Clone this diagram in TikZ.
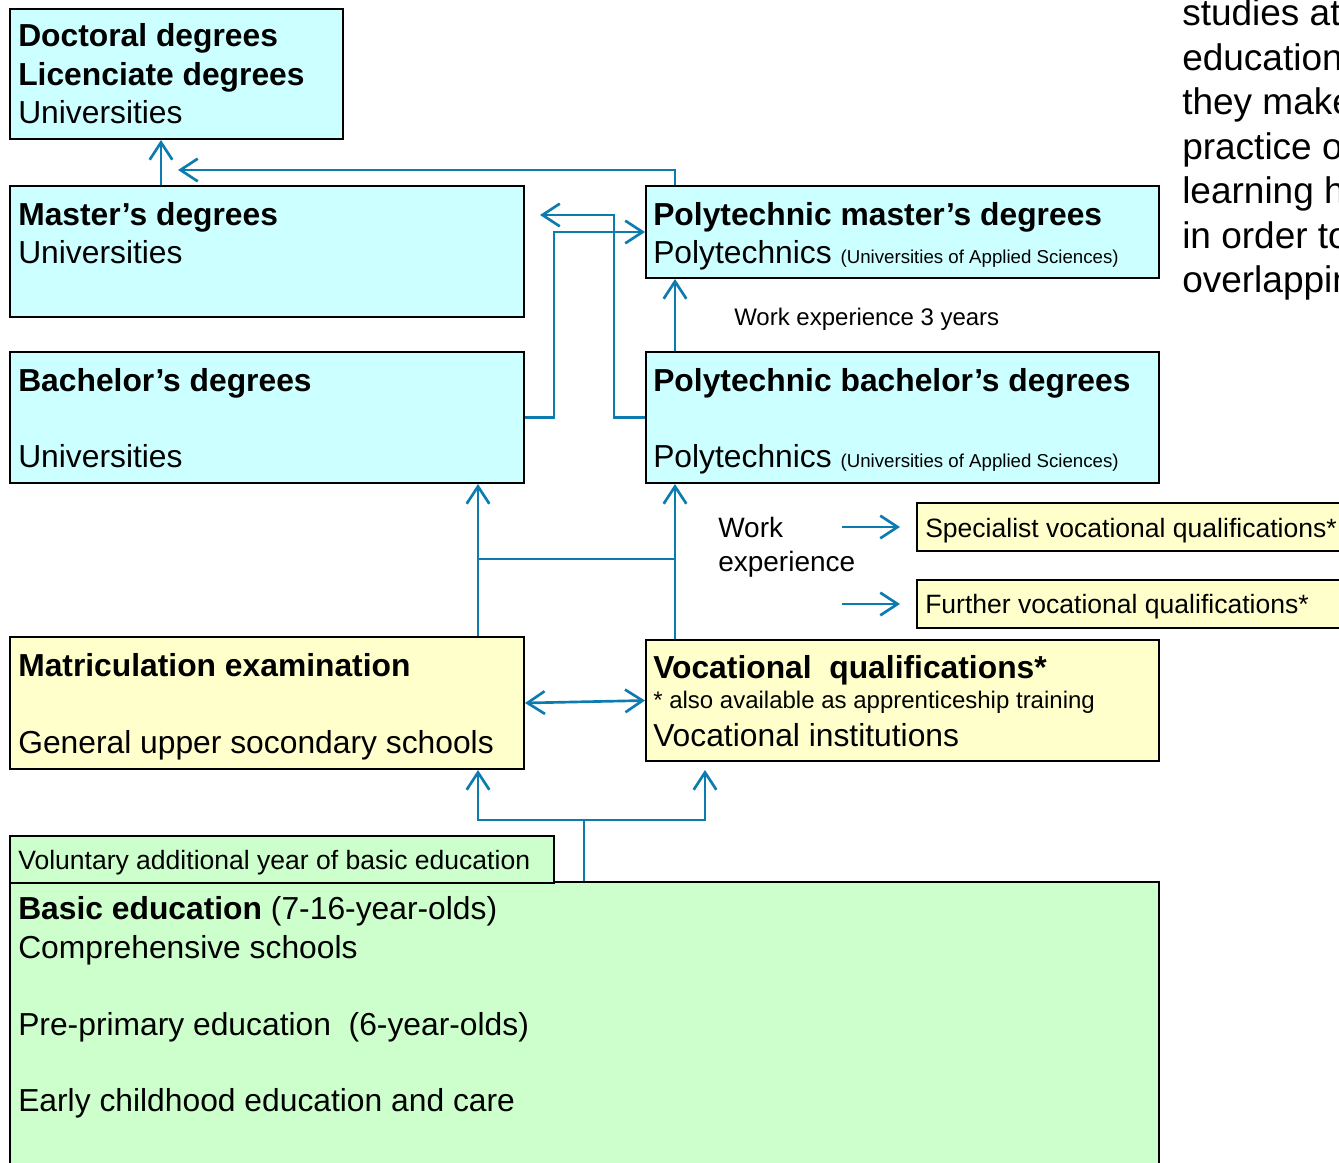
\documentclass[tikz,border=0pt]{standalone}
\usepackage{fontspec}
\setmainfont{Liberation Sans}
\usetikzlibrary{arrows.meta,calc}
\definecolor{cyanfill}{HTML}{CCFFFF}
\definecolor{yelfill}{HTML}{FFFFCC}
\definecolor{grnfill}{HTML}{CCFFCC}
\definecolor{conncol}{HTML}{0C7CB0}
\begin{document}
\begin{tikzpicture}[x=0.75pt,y=-0.75pt,
  box/.style={draw=black, line width=1.5pt, inner sep=0pt, anchor=north west},
  cbox/.style={box, fill=cyanfill},
  ybox/.style={box, fill=yelfill},
  gbox/.style={box, fill=grnfill},
  txt/.style={anchor=base west, inner sep=0pt, font=\fontsize{23.85}{28}\selectfont},
  btxt/.style={anchor=base west, inner sep=0pt, font=\fontsize{23.85}{28}\selectfont\bfseries},
  mtxt/.style={anchor=base west, inner sep=0pt, font=\fontsize{19.9}{23}\selectfont},
  stxt/.style={anchor=base west, inner sep=0pt, font=\fontsize{18}{21}\selectfont},
  rtxt/.style={anchor=base west, inner sep=0pt, font=\fontsize{27.75}{33}\selectfont},
  conn/.style={draw=conncol, line width=2pt},
  arr/.style={conn, -{Straight Barb[length=13pt,width=17pt]}},
  dblarr/.style={conn, {Straight Barb[length=13pt,width=17pt]}-{Straight Barb[length=13pt,width=17pt]}},
]
\useasboundingbox (0,0) rectangle (1339,1163);
\clip (0,0) rectangle (1339,1163);
\newcommand\apps{\fontsize{14}{16}\selectfont(Universities of Applied Sciences)}

% boxes
\node[cbox, minimum width=249.75pt, minimum height=97.5pt] (doc) at (9,8) {};
\node[cbox, minimum width=385.5pt, minimum height=98.25pt] (master) at (9,185) {};
\node[cbox, minimum width=385.5pt, minimum height=98.25pt] (bach) at (9,351) {};
\node[cbox, minimum width=384.75pt, minimum height=69pt] (pm) at (645,185) {};
\node[cbox, minimum width=384.75pt, minimum height=98.25pt] (pb) at (645,351) {};
\node[ybox, minimum width=385.5pt, minimum height=99pt] (mat) at (9,636) {};
\node[ybox, minimum width=384.75pt, minimum height=90.75pt] (voc) at (645,639) {};
\node[ybox, minimum width=333pt, minimum height=36pt] (spec) at (916,502) {};
\node[ybox, minimum width=333pt, minimum height=36pt] (further) at (916,579) {};
\node[gbox, minimum width=861.75pt, minimum height=239.25pt] (basic) at (9,881) {};
\node[gbox, minimum width=408pt, minimum height=35.25pt] (vol) at (9,835) {};

% texts
\node[btxt] (t1) at (18,47) {Doctoral degrees};
\node[btxt] (t2) at (18,85) {Licenciate degrees};
\node[txt] (t3) at (18,123) {Universities};
\node[btxt] (t4) at (18,225) {Master’s degrees};
\node[txt] (t5) at (18,263) {Universities};
\node[btxt] (t6) at (18,391) {Bachelor’s degrees};
\node[txt] (t7) at (18,467) {Universities};
\node[btxt] (t8) at (653,225) {Polytechnic master’s degrees};
\node[txt] (t9) at (653,263) {Polytechnics \apps};
\node[btxt] (t10) at (653,391) {Polytechnic bachelor’s degrees};
\node[txt] (t11) at (653,467) {Polytechnics \apps};
\node[btxt] (t12) at (18,676) {Matriculation examination};
\node[txt] (t13) at (18,753) {General upper socondary schools};
\node[btxt] (t14) at (653,678) {Vocational\ \ qualifications*};
\node[stxt] (t15) at (653,708) {* also available as apprenticeship training};
\node[txt] (t16) at (653,746) {Vocational institutions};
\node[mtxt] (t17) at (925,537) {Specialist vocational qualifications*};
\node[mtxt] (t18) at (925,613) {Further vocational qualifications*};
\node[anchor=base west, inner sep=0pt, font=\fontsize{21}{25}\selectfont] (t19) at (718,537) {Work};
\node[anchor=base west, inner sep=0pt, font=\fontsize{21}{25}\selectfont] (t20) at (718,571) {experience};
\node[stxt] (t21) at (734,325) {Work experience 3 years};
\node[mtxt] (t22) at (18,869) {Voluntary additional year of basic education};
\node[txt] (t23) at (18,919) {{\bfseries Basic education} (7-16-year-olds)};
\node[txt] (t24) at (18,958) {Comprehensive schools};
\node[txt] (t25) at (18,1035) {Pre-primary education\ \ (6-year-olds)};
\node[txt] (t26) at (18,1111) {Early childhood education and care};

\node[rtxt] (r1) at (1182,26) {studies at};
\node[rtxt] (r2) at (1182,70) {education};
\node[rtxt] (r3) at (1182,114.5) {they make};
\node[rtxt] (r4) at (1182,159) {practice o};
\node[rtxt] (r5) at (1182,203.5) {learning h};
\node[rtxt] (r6) at (1182,248) {in order to};
\node[rtxt] (r7) at (1182,292.5) {overlappin};

% helper coordinates
\coordinate (xa) at (161,0);
\coordinate (xb) at (675,0);
\coordinate (xc) at (614,0);
\coordinate (xf) at (478,0);
\coordinate (xj) at (584,0);
\coordinate (bend) at (178,170);
\coordinate (cend) at (540,215);
\coordinate (xd) at (554,232);
\coordinate (hmid) at (478,559);
\coordinate (yj) at (0,820);
\coordinate (vtip) at (705,770);
\coordinate (w1) at (842,527);
\coordinate (w2) at (842,604);

% connectors
\draw[arr] (xa |- master.north) -- (xa |- doc.south);
\draw[arr] (xb |- pm.north) |- (bend);
\draw[arr] (pb.west) -| (xc |- cend) -- (cend);
\draw[arr] (bach.east) -| (xd) -- (xd -| pm.west);
\draw[arr] (pb.north -| xb) -- (pm.south -| xb);
\draw[arr] (mat.north -| xf) -- (bach.south -| xf);
\draw[arr] (voc.north -| xb) -- (pb.south -| xb);
\draw[conn] (hmid) -- (hmid -| xb);
\draw[dblarr] (mat.east) -- (voc.west);
\draw[conn] (basic.north -| xj) -- (xj |- yj);
\draw[arr] (xj |- yj) -| (mat.south -| xf);
\draw[arr] (xj |- yj) -| (vtip);
\draw[arr, shorten >=12pt] (w1) -- (w1 -| spec.west);
\draw[arr, shorten >=12pt] (w2) -- (w2 -| further.west);
\end{tikzpicture}
\end{document}
